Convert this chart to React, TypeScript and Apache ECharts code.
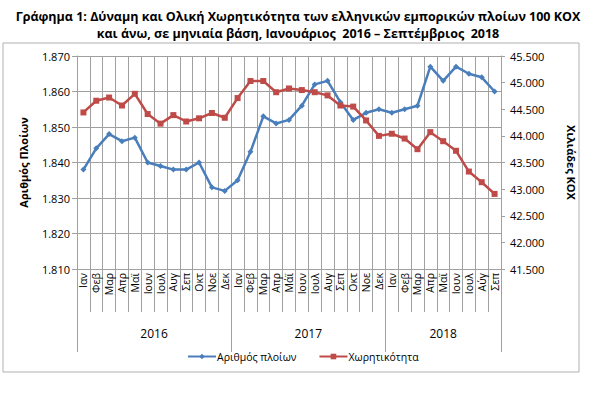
import React, { useEffect, useRef } from "react";
import * as echarts from "echarts";

const months = [
  "Ιαν", "Φεβ", "Μαρ", "Απρ", "Μαϊ", "Ιουν", "Ιουλ", "Αυγ", "Σεπ", "Οκτ", "Νοε", "Δεκ",
  "Ιαν", "Φεβ", "Μαρ", "Απρ", "Μάϊ", "Ιουν", "Ιουλ", "Αυγ", "Σεπ", "Οκτ", "Νοε", "Δεκ",
  "Ιαν", "Φεβ", "Μαρ", "Απρ", "Μαϊ", "Ιουν", "Ιουλ", "Αύγ", "Σεπ",
];
const years = ["2016", "2017", "2018"];
const yearLabelPos = [6, 18, 28.5];
const yearBounds = [0, 12, 24, 33];

const ships = [
  1838, 1844, 1848, 1846, 1847, 1840, 1839, 1838, 1838, 1840, 1833, 1832,
  1835, 1843, 1853, 1851, 1852, 1856, 1862, 1863, 1857, 1852, 1854, 1855,
  1854, 1855, 1856, 1867, 1863, 1867, 1865, 1864, 1860,
];
const capacity = [
  44440, 44660, 44720, 44570, 44790, 44410, 44230, 44390, 44270, 44330, 44430, 44340,
  44710, 45030, 45030, 44820, 44890, 44860, 44820, 44760, 44570, 44550, 44290, 44000,
  44040, 43950, 43750, 44070, 43900, 43720, 43330, 43130, 42910,
];

const leftTicks = { min: 1810, max: 1870, step: 10 };
const rightTicks = { min: 41500, max: 45500, step: 500 };

const fmt = (v: number) => String(Math.round(v)).replace(/\B(?=(\d{3})+(?!\d))/g, ".");

const FONT = "'Open Sans', sans-serif";
const GRID = "#a0a0a0";

export default function App() {
  const ref = useRef<HTMLDivElement>(null);
  useEffect(() => {
    if (!ref.current) return;
    const chart = echarts.init(ref.current, null, { renderer: "svg" });
    chart.setOption({
      animation: false,
      backgroundColor: "#ffffff",
      textStyle: { fontFamily: FONT },
      title: {
        text: "Γράφημα 1: Δύναμη και Ολική Χωρητικότητα των ελληνικών εμπορικών πλοίων 100 ΚΟΧ\nκαι άνω, σε μηνιαία βάση, Ιανουάριος  2016 – Σεπτέμβριος  2018",
        left: "center",
        top: 3,
        textStyle: { fontFamily: FONT, fontSize: 12.5, fontWeight: "bold", color: "#000", lineHeight: 17 },
      },
      graphic: [
        {
          type: "rect",
          shape: { x: 3, y: 43, width: 576, height: 329 },
          style: { fill: "none", stroke: "#b0b0b0", lineWidth: 1 },
          silent: true,
        },
      ],
      legend: {
        bottom: 30,
        left: 182,
        itemWidth: 28,
        itemHeight: 7,
        itemGap: 22,
        textStyle: { fontFamily: FONT, fontSize: 10.5, color: "#000", padding: [0, 0, 0, -4] },
        data: ["Αριθμός πλοίων", "Χωρητικότητα"],
      },
      grid: { left: 77, right: 95, top: 56, bottom: 128, containLabel: false },
      xAxis: [
        {
          type: "category",
          data: months,
          boundaryGap: true,
          axisLine: { show: true, lineStyle: { color: GRID } },
          axisTick: { show: true, length: 43, interval: 0, lineStyle: { color: GRID } },
          splitLine: { show: true, interval: 0, lineStyle: { color: GRID } },
          axisLabel: {
            interval: 0,
            rotate: 90,
            margin: 4,
            fontSize: 10.5,
            color: "#000",
            fontFamily: FONT,
          },
        },
        {
          type: "value",
          min: 0,
          max: 33,
          position: "bottom",
          axisLine: { show: false },
          axisTick: {
            show: true,
            customValues: yearBounds,
            length: 83,
            lineStyle: { color: GRID },
          },
          splitLine: { show: false },
          axisLabel: {
            customValues: yearLabelPos,
            formatter: (v: number) => years[yearLabelPos.indexOf(v)] ?? "",
            margin: 58,
            fontSize: 12,
            color: "#000",
            fontFamily: FONT,
          },
        },
      ],
      yAxis: [
        {
          type: "value",
          min: leftTicks.min,
          max: leftTicks.max,
          interval: leftTicks.step,
          position: "left",
          name: "Αριθμός Πλοίων",
          nameLocation: "middle",
          nameRotate: 90,
          nameGap: 48,
          nameTextStyle: { fontFamily: FONT, fontSize: 11, fontWeight: "bold", color: "#000" },
          axisLine: { show: true, lineStyle: { color: GRID } },
          axisTick: { show: true, length: 5, lineStyle: { color: GRID } },
          splitLine: { show: true, lineStyle: { color: GRID } },
          axisLabel: { formatter: fmt, fontSize: 11, color: "#000", margin: 7, fontFamily: FONT },
        },
        {
          type: "value",
          min: rightTicks.min,
          max: rightTicks.max,
          interval: rightTicks.step,
          position: "right",
          name: "Χιλιάδες ΚΟΧ",
          nameLocation: "middle",
          nameRotate: -90,
          nameGap: 65,
          nameTextStyle: { fontFamily: FONT, fontSize: 11, fontWeight: "bold", color: "#000" },
          axisLine: { show: true, lineStyle: { color: GRID } },
          axisTick: { show: true, length: 4, lineStyle: { color: GRID } },
          splitLine: { show: false },
          axisLabel: { formatter: fmt, fontSize: 11, color: "#000", margin: 9, fontFamily: FONT },
        },
      ],
      series: [
        {
          name: "Αριθμός πλοίων",
          type: "line",
          xAxisIndex: 0,
          yAxisIndex: 0,
          data: ships,
          symbol: "diamond",
          symbolSize: 6,
          lineStyle: { width: 2.5, color: "#4a7ebb" },
          itemStyle: { color: "#4a7ebb" },
        },
        {
          name: "Χωρητικότητα",
          type: "line",
          xAxisIndex: 0,
          yAxisIndex: 1,
          data: capacity,
          symbol: "rect",
          symbolSize: 6,
          lineStyle: { width: 2.5, color: "#be4b48" },
          itemStyle: { color: "#be4b48" },
        },
      ],
    });
    return () => chart.dispose();
  }, []);
  return (
    <div
      ref={ref}
      style={{ position: "fixed", left: 0, top: 0, width: 596, height: 397 }}
    />
  );
}
